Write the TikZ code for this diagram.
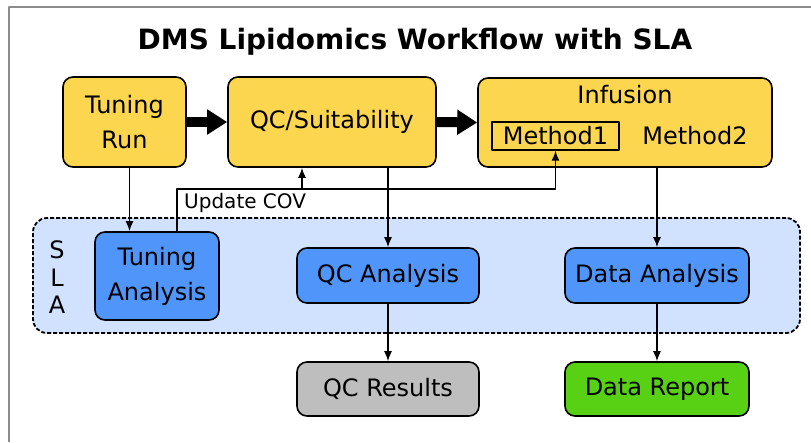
\documentclass[tikz,border=0pt]{standalone}
\usepackage{fontspec}
\setmainfont{DejaVu Sans}
\usepackage{tikz}
\usetikzlibrary{arrows.meta}
\definecolor{runyellow}{RGB}{253,214,80}
\definecolor{slablue}{RGB}{80,150,250}
\definecolor{slabg}{RGB}{208,226,255}
\definecolor{resgray}{RGB}{190,190,190}
\definecolor{repgreen}{RGB}{88,208,20}
\definecolor{framegray}{RGB}{140,140,140}
\tikzset{
	box/.style={draw=black,line width=1.6pt,rounded corners=10pt,inner sep=0pt,align=center,font=\fontsize{24}{35}\selectfont},
	runbox/.style={box,fill=runyellow},
	slabox/.style={box,fill=slablue},
	conn/.style={line width=1.5pt,-{Latex[length=10pt,width=8pt]}},
	bigarrow/.style={line width=10pt,-{Triangle[length=20pt,width=24pt]}},
	lbl/.style={inner sep=0pt,font=\fontsize{24}{24}\selectfont},
}

\begin{document}
\begin{tikzpicture}[x=1pt,y=-1pt,line join=round]
	\useasboundingbox (0,0) rectangle (811,442);
	\draw[framegray,line width=2pt] (9,442) -- (9,7) -- (811,7);
	\node[font=\bfseries\fontsize{28}{28}\selectfont] (title) at (415,42) {DMS Lipidomics Workflow with SLA};
	% SLA area
	\node[draw,dash pattern=on 4pt off 2pt,line width=1.8pt,rounded corners=14pt,fill=slabg,minimum width=767pt,minimum height=115pt] (slaarea) at (416.5,275.5) {};
	\foreach \ch/\yy in {S/250,L/278,A/305}
	\node[lbl] (sla\ch) at (57,\yy) {\ch};
	% instrument steps
	\node[runbox,minimum width=123pt,minimum height=90pt] (tunrun) at (124.5,122) {Tuning\\Run};
	\node[runbox,minimum width=208pt,minimum height=90pt] (qcsuit) at (332,122) {QC/Suitability};
	\node[runbox,minimum width=294pt,minimum height=89pt] (infus) at (625,122.5) {};
	\node[lbl] (inflbl) at (625,95) {Infusion};
	\node[draw,line width=1.4pt,inner sep=0pt,minimum width=127pt,minimum height=28pt,font=\fontsize{24}{24}\selectfont] (meth1) at (555.5,136) {Method1};
	\node[lbl] (meth2) at (695,136) {Method2};
	% SLA steps
	\node[slabox,minimum width=124pt,minimum height=88pt] (tunana) at (157,276) {Tuning\\Analysis};
	\node[slabox,minimum width=182pt,minimum height=55pt] (qcana) at (388,275.5) {QC Analysis};
	\node[slabox,minimum width=184pt,minimum height=55pt] (dataana) at (657,275.5) {Data Analysis};
	\node[box,fill=resgray,minimum width=182pt,minimum height=54pt] (qcres) at (388,389) {QC Results};
	\node[box,fill=repgreen,minimum width=184pt,minimum height=54pt] (datarep) at (657,389) {Data Report};
	% arrows
	\draw[bigarrow] (tunrun.east) -- (qcsuit.west);
	\draw[bigarrow] (qcsuit.east) -- (infus.west);
	\draw[conn] ([xshift=5pt]tunrun.south) -- ([xshift=5pt]tunrun.south |- tunana.north);
	\draw[conn] (qcsuit.south -| qcana.north) -- (qcana.north);
	\draw[conn] (infus.south -| dataana.north) -- (dataana.north);
	\draw[conn] (qcana.south) -- (qcres.north);
	\draw[conn] (dataana.south) -- (datarep.north);
	% update COV loop
	\coordinate (covjoin) at (meth1.south |- 0,189);
	\coordinate (covfork) at (302,189);
	\draw[conn] ([xshift=20pt]tunana.north) |- (covjoin) -- (meth1.south);
	\draw[conn] (covfork) -- (covfork |- qcsuit.south);
	\node[anchor=west,inner sep=0pt,font=\fontsize{20}{20}\selectfont] (covlbl) at (184,203) {Update COV};
\end{tikzpicture}
\end{document}
